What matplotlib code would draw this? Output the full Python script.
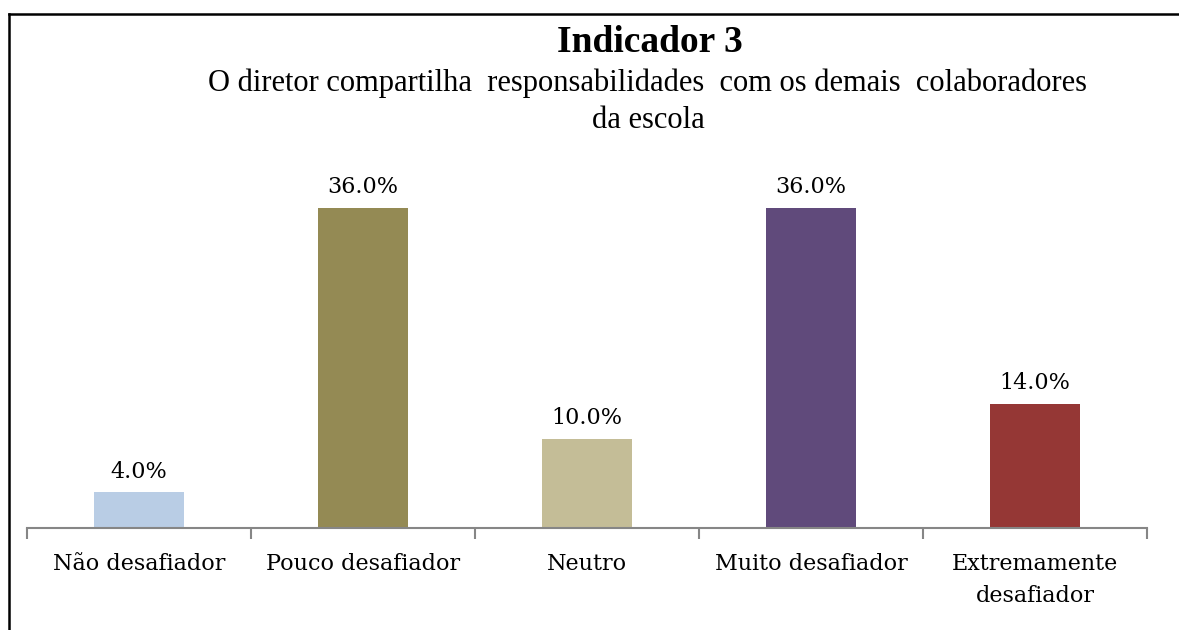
import matplotlib.pyplot as plt
from matplotlib.lines import Line2D

categories = ['Não desafiador', 'Pouco desafiador', 'Neutro', 'Muito desafiador', 'Extremamente\ndesafiador']
values = [4.0, 36.0, 10.0, 36.0, 14.0]
colors = ['#B9CDE5', '#948A54', '#C4BD97', '#604A7B', '#953735']

W, H = 1179, 630
fig = plt.figure(figsize=(W / 100, H / 100), dpi=100)

# axes placed in pixel terms: baseline at y=528, x from 27 to 1147
top_px = 160
ax = fig.add_axes([27 / W, (H - 528) / H, 1120 / W, (528 - top_px) / H])
x = range(len(categories))
ax.bar(x, values, width=0.4, color=colors)
ax.set_xlim(-0.5, len(categories) - 0.5)
ax.set_ylim(0, 36 * (528 - top_px) / 320)

for xi, v in zip(x, values):
    ax.annotate(f'{v:.1f}%', (xi, v), xytext=(0, 7), textcoords='offset points',
                ha='center', va='bottom', family='DejaVu Serif', fontsize=16)

for s in ['top', 'right', 'left']:
    ax.spines[s].set_visible(False)
ax.spines['bottom'].set_color('#868686')
ax.spines['bottom'].set_linewidth(1.5)
ax.set_yticks([])
ax.set_xticks([i - 0.5 for i in range(len(categories) + 1)], minor=False)
ax.set_xticklabels([])
ax.tick_params(axis='x', length=8, width=1.5, color='#868686', direction='out')
ax.set_xticks(list(x), minor=True)
ax.set_xticklabels(categories, minor=True, family='DejaVu Serif', fontsize=16, linespacing=1.6)
ax.tick_params(axis='x', which='minor', length=0, pad=18)

fig.text(650 / W, 1 - 43 / H, 'Indicador 3', ha='center', va='center',
         family='Liberation Serif', fontweight='bold', fontsize=27)
fig.text(648 / W, 1 - 83 / H, 'O diretor compartilha  responsabilidades  com os demais  colaboradores',
         ha='center', va='center', family='Liberation Serif', fontsize=22)
fig.text(648 / W, 1 - 120 / H, 'da escola', ha='center', va='center',
         family='Liberation Serif', fontsize=22)

# outer frame (only left and top visible in the reference)
fig.add_artist(Line2D([9 / W, 9 / W], [0, 1 - 14 / H], transform=fig.transFigure, color='black', lw=1.8))
fig.add_artist(Line2D([9 / W, 1], [1 - 14 / H, 1 - 14 / H], transform=fig.transFigure, color='black', lw=1.8))

fig.savefig('out.png', dpi=100)
